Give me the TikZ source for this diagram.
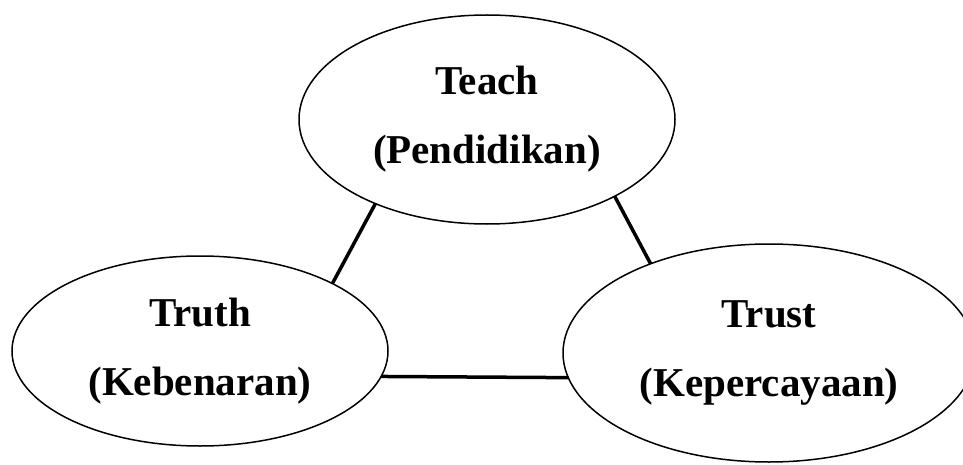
\documentclass[tikz,border=0pt]{standalone}
\usepackage{fontspec}
\setmainfont{Liberation Serif}
\usetikzlibrary{shapes.geometric,positioning}

\begin{document}
\begin{tikzpicture}[
                          x=1pt, y=1pt,
                          on grid,
                          pillar/.style={ellipse, draw, line width=1.5pt,
                            inner sep=0pt, outer sep=0pt, align=center,
                            font=\bfseries\fontsize{41}{69}\selectfont},
                          link/.style={draw, line width=3.5pt}]
                      \useasboundingbox (0,0) rectangle (963,-465);
                      \node[pillar, minimum width=376pt, minimum height=209pt] (teach) at (487,-119.5) {Teach\\(Pendidikan)};
                      \node[pillar, minimum width=376pt, minimum height=190pt] (truth) [below left=231.5pt and 287pt of teach] {Truth\\(Kebenaran)};
                      \node[pillar, minimum width=412pt, minimum height=218pt] (trust) [below right=233.5pt and 282pt of teach] {Trust\\(Kepercayaan)};
                      \path
                      (teach.217) edge[link] (truth.27)
                      (teach.329) edge[link] (trust.143)
                      (truth.352) edge[link] (trust.187)
                      ;
                  \end{tikzpicture}
\end{document}
